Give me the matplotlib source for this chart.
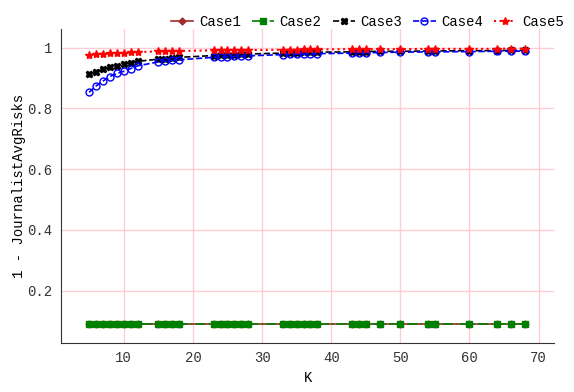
import numpy as np
import matplotlib.pyplot as plt

# K values and 1 - JournalistAvgRisks per case
K = [5, 6, 7, 8, 9, 10, 11, 12, 15, 16, 17, 18, 23, 24, 25, 26, 27, 28,
     33, 34, 35, 36, 37, 38, 43, 44, 45, 47, 50, 54, 55, 60, 64, 66, 68]

case1 = [0.09] * len(K)
case2 = [0.09] * len(K)
case3 = [0.912, 0.921, 0.929, 0.935, 0.940, 0.945, 0.950, 0.955,
         0.962, 0.964, 0.966, 0.968, 0.974, 0.975, 0.976, 0.977, 0.978, 0.979,
         0.982, 0.983, 0.983, 0.984, 0.984, 0.985, 0.986, 0.987, 0.987, 0.988,
         0.988, 0.989, 0.989, 0.990, 0.990, 0.991, 0.991]
case4 = [0.853, 0.874, 0.890, 0.905, 0.915, 0.922, 0.931, 0.940,
         0.953, 0.956, 0.958, 0.960, 0.968, 0.969, 0.970, 0.971, 0.972, 0.973,
         0.977, 0.978, 0.978, 0.979, 0.979, 0.980, 0.982, 0.983, 0.983, 0.984,
         0.985, 0.986, 0.986, 0.987, 0.988, 0.988, 0.989]
case5 = [0.977, 0.979, 0.980, 0.981, 0.982, 0.983, 0.984, 0.985,
         0.988, 0.988, 0.989, 0.989, 0.991, 0.991, 0.991, 0.992, 0.992, 0.992,
         0.993, 0.993, 0.993, 0.994, 0.994, 0.994, 0.995, 0.995, 0.995, 0.995,
         0.995, 0.996, 0.996, 0.996, 0.996, 0.997, 0.997]

plt.rcParams['font.family'] = ['Liberation Mono', 'DejaVu Sans Mono']

fig = plt.figure(figsize=(5.74, 3.92), dpi=100)
ax = fig.add_axes([0.106, 0.125, 0.86, 0.80])

ax.plot(K, case1, '-', color='#a52a2a', marker='D', ms=3.5, lw=1.2, label='Case1')
ax.plot(K, case2, '-.', color='green', marker='s', ms=4.5, lw=1.2, label='Case2')
ax.plot(K, case3, '--', color='black', marker='X', ms=4.5, lw=1.2, label='Case3')
ax.plot(K, case4, '--', color='blue', marker='o', ms=5, mfc='none', lw=1.2, label='Case4')
ax.plot(K, case5, ':', color='red', marker='*', ms=6, lw=1.5, label='Case5')

ax.set_xlim(0.9, 72.3)
ax.set_ylim(0.028, 1.06)
ax.set_xticks([10, 20, 30, 40, 50, 60, 70])
ax.set_yticks([0.2, 0.4, 0.6, 0.8, 1.0])
ax.set_yticklabels(['0.2', '0.4', '0.6', '0.8', '1'])
ax.grid(True, color='#ffccd4', lw=1)
ax.set_axisbelow(True)
for s in ['top', 'right']:
    ax.spines[s].set_visible(False)
ax.spines['left'].set_color('#333333')
ax.spines['bottom'].set_color('#333333')
ax.tick_params(length=0, labelsize=10, pad=6, colors='#333333')

ax.set_xlabel('K', fontsize=10)
ax.set_ylabel('1 - JournalistAvgRisks', fontsize=10, labelpad=1)

ax.legend(loc='lower right', bbox_to_anchor=(1.03, 0.985), ncol=5, frameon=False,
          fontsize=10, handlelength=1.6, handletextpad=0.4, columnspacing=0.8,
          borderaxespad=0)

fig.savefig('out.png')
